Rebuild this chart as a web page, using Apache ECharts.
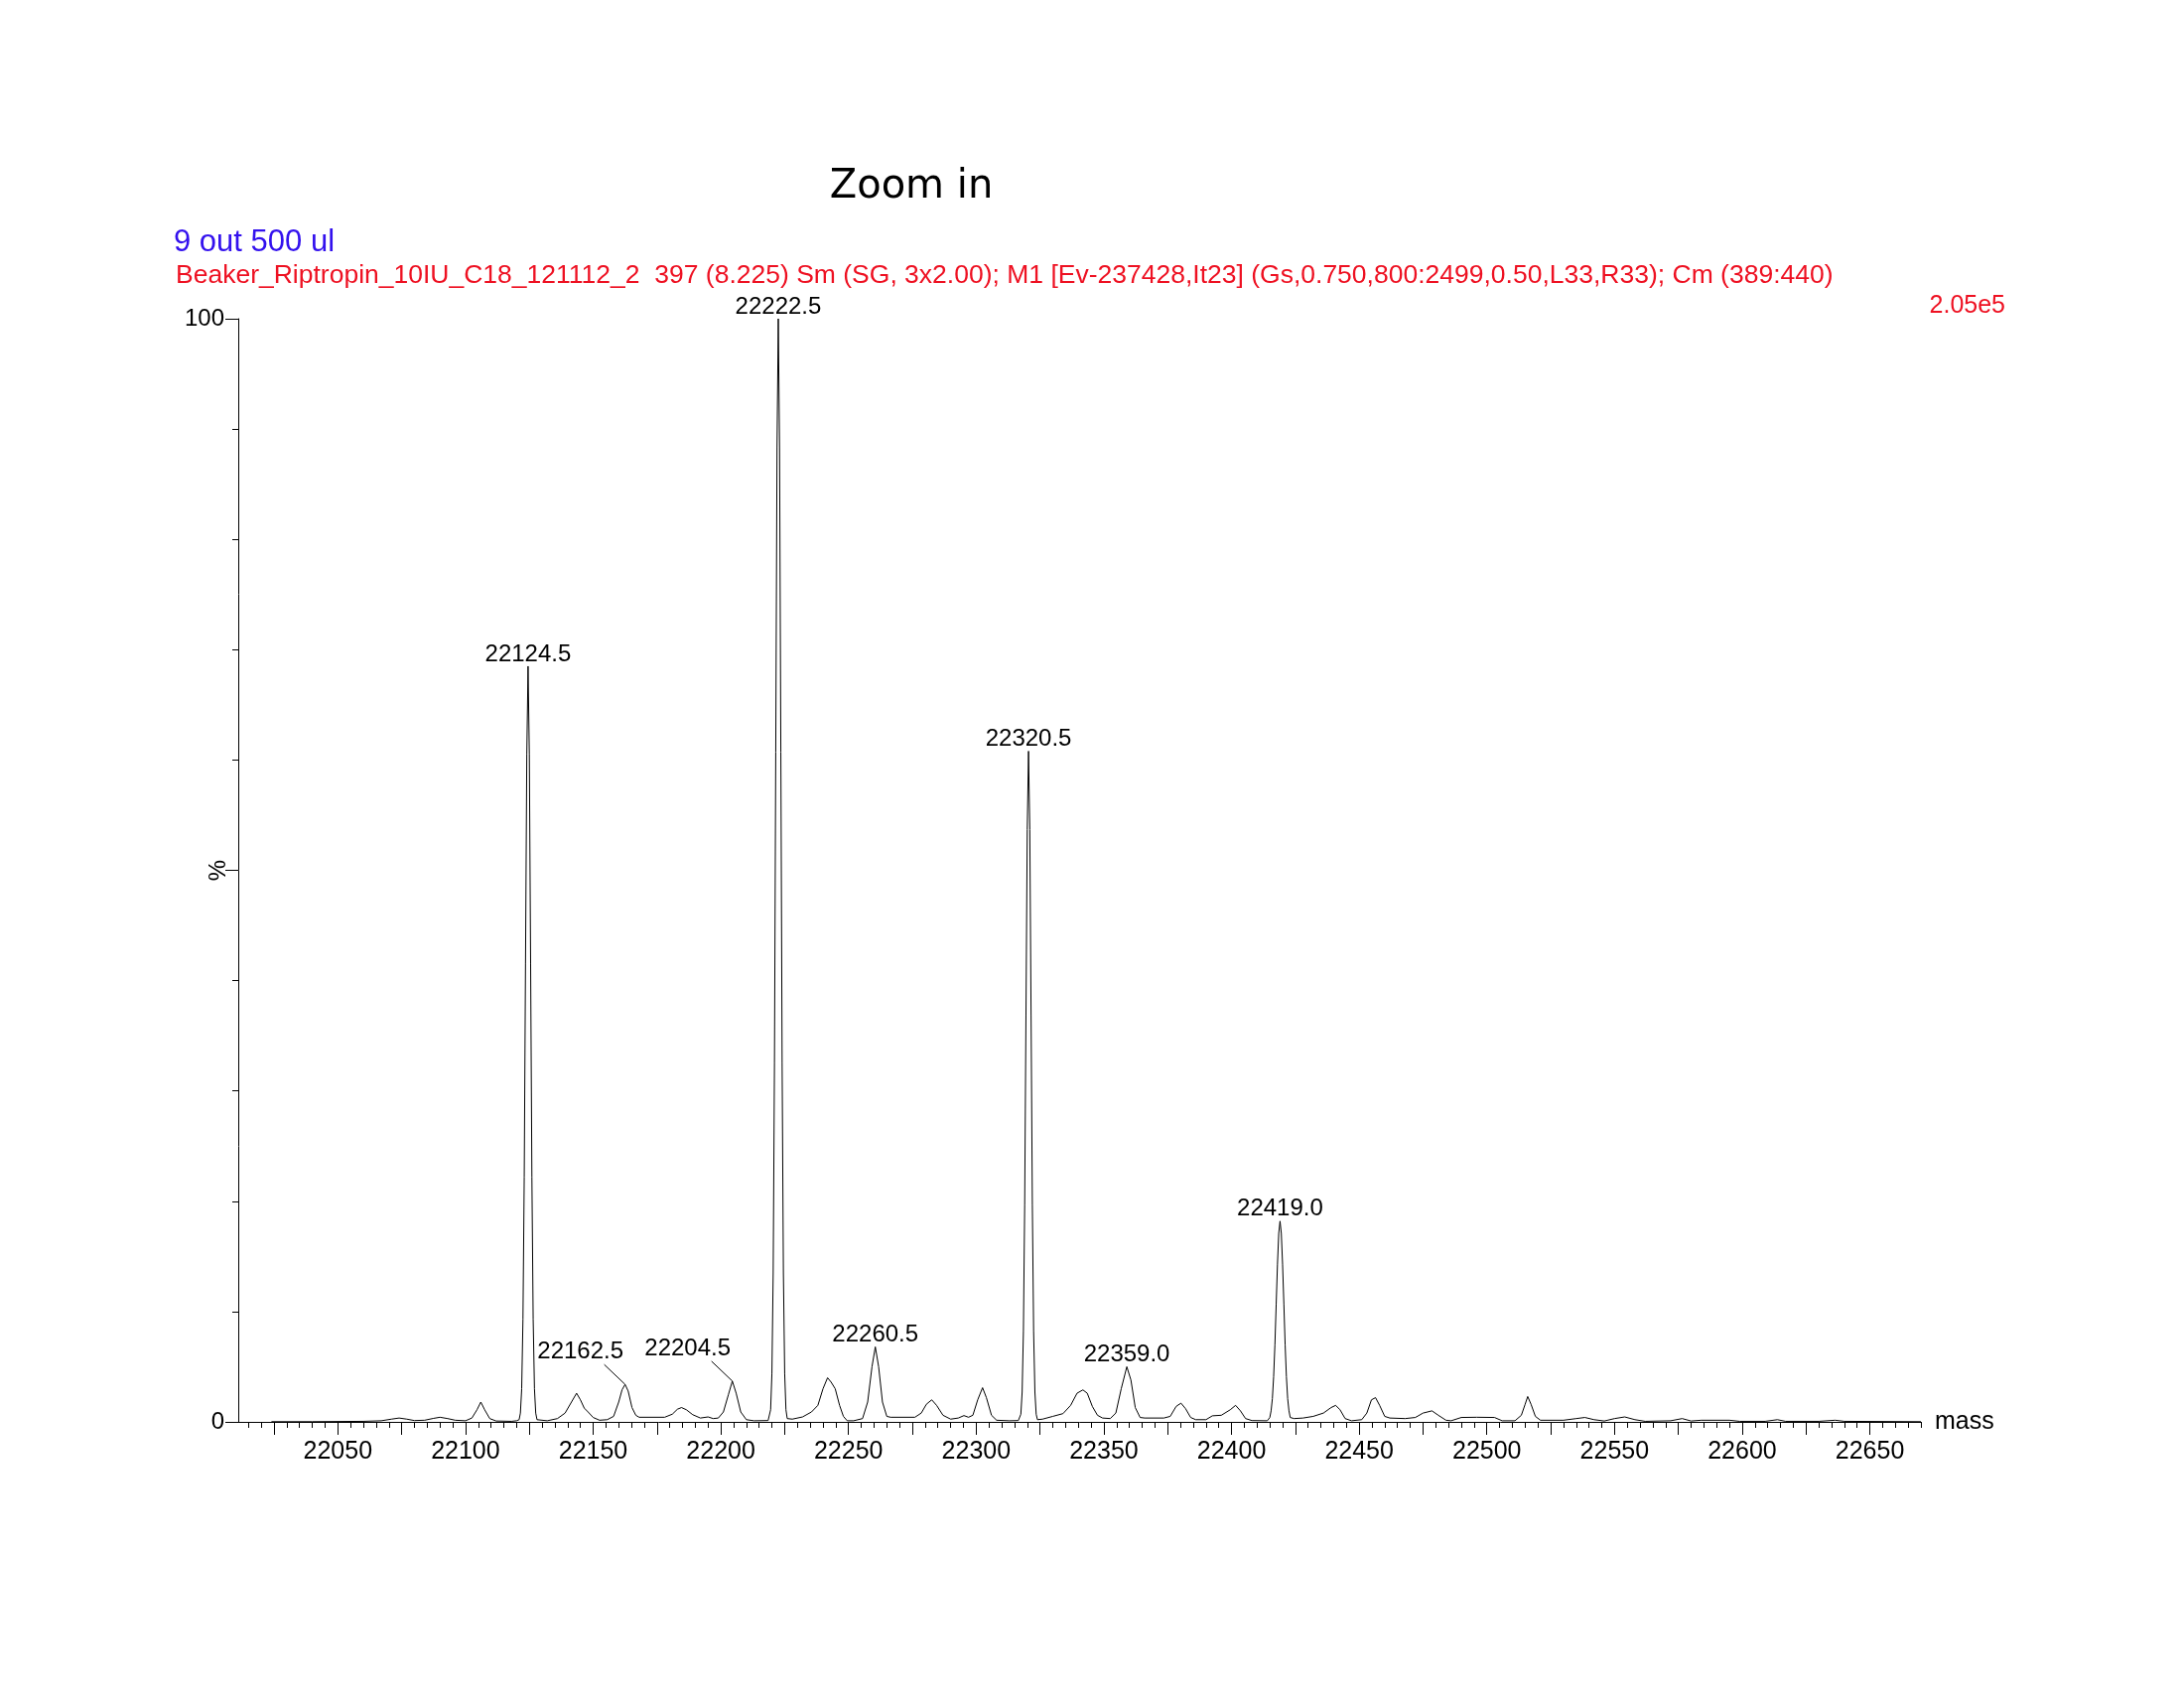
<!DOCTYPE html>
<html>
<head>
<meta charset="utf-8">
<script src="https://cdn.jsdelivr.net/npm/echarts@6/dist/echarts.min.js"></script>
<style>
html,body{margin:0;padding:0;background:#fff;}
#chart{width:2200px;height:1700px;}
</style>
</head>
<body>
<div id="chart"></div>
<script>
// ---- data ----
const titleText = 'Zoom in';
const sampleText = '9 out 500 ul';
const headerText = 'Beaker_Riptropin_10IU_C18_121112_2  397 (8.225) Sm (SG, 3x2.00); M1 [Ev-237428,It23] (Gs,0.750,800:2499,0.50,L33,R33); Cm (389:440)';
const maxIntensityText = '2.05e5';
const xName = 'mass';
const yName = '%';

const xTickLabels = [22050, 22100, 22150, 22200, 22250, 22300, 22350, 22400, 22450, 22500, 22550, 22600, 22650];
const yTickLabels = [0, 100];

// spectrum profile [mass, % intensity]
const spectrum = [
[22024,0.02],[22040,0.02],[22060,0.05],[22067,0.1],[22071,0.25],[22074,0.35],[22077,0.25],[22080,0.12],[22084,0.15],[22087.5,0.32],[22090,0.42],[22093,0.3],[22096,0.15],[22100,0.1],[22102.5,0.35],[22104.5,1.1],[22106,1.8],[22107.5,1.1],[22109.5,0.3],[22112,0.08],[22118,0.05],[22120,0.1],
[22121,0.2],[22121.5,0.8],[22122,3.0],[22122.5,9.3],[22123,22.2],[22123.5,41.5],[22124,60.5],[22124.5,68.5],[22125,60.5],[22125.5,41.5],[22126,22.2],[22126.5,9.3],[22127,3.0],[22127.5,0.8],[22128,0.2],
[22132,0.1],[22136,0.3],[22139,0.8],[22141.5,1.8],[22143.5,2.6],[22145,2.0],[22146.5,1.25],[22148,0.9],[22150,0.4],[22152.5,0.15],[22155.5,0.2],[22158,0.5],[22160,1.8],[22161.3,2.9],[22162.5,3.4],[22163.7,2.8],[22165.2,1.3],[22166.7,0.6],[22168,0.42],[22178,0.42],[22181,0.7],[22183,1.15],[22184.6,1.3],[22186.5,1.1],[22189,0.65],[22192,0.35],[22195,0.45],[22197,0.3],[22199,0.35],[22201,0.9],[22203,2.5],[22204.5,3.7],[22206,2.6],[22207.8,0.9],[22210,0.2],[22213,0.1],[22218.5,0.12],
[22219,0.3],[22219.5,1.1],[22220,4.4],[22220.5,13.5],[22221,32.5],[22221.5,60.7],[22222,88.3],[22222.5,100],[22223,88.3],[22223.5,60.7],[22224,32.5],[22224.5,13.5],[22225,4.4],[22225.5,1.1],[22226,0.3],
[22228,0.25],[22232,0.45],[22235.5,0.9],[22238,1.5],[22240,3.0],[22241.8,4.0],[22243.2,3.6],[22244.8,3.0],[22246.5,1.5],[22248,0.5],[22249.5,0.1],[22252,0.1],[22255.5,0.3],[22257.5,1.8],[22259.2,5.0],[22260.5,6.8],[22261.8,5.0],[22263.3,1.8],[22265,0.5],[22266.5,0.42],[22276,0.42],[22278.5,0.8],[22280.5,1.6],[22282.6,2.0],[22284.5,1.5],[22287,0.6],[22290,0.25],[22293,0.35],[22295.2,0.57],[22297,0.42],[22298.7,0.6],[22300.6,2.0],[22302.5,3.1],[22304,2.2],[22306,0.6],[22308,0.15],[22313,0.1],[22316.5,0.12],
[22317,0.2],[22317.5,0.7],[22318,2.7],[22318.5,8.2],[22319,19.7],[22319.5,36.9],[22320,53.7],[22320.5,60.8],[22321,53.7],[22321.5,36.9],[22322,19.7],[22322.5,8.2],[22323,2.7],[22323.5,0.7],[22324,0.2],
[22326,0.25],[22330,0.5],[22334,0.75],[22337,1.5],[22339.5,2.6],[22341.8,2.9],[22343.5,2.6],[22345.5,1.4],[22347.5,0.6],[22349.5,0.35],[22352.5,0.3],[22354.7,0.8],[22356.8,3.0],[22359,5.0],[22360.6,3.8],[22362.3,1.3],[22364.2,0.4],[22366,0.35],[22373.5,0.35],[22376,0.5],[22378.3,1.4],[22380.2,1.7],[22382,1.2],[22384,0.4],[22386,0.2],[22390,0.2],[22392.5,0.55],[22396,0.6],[22399.5,1.1],[22401.6,1.5],[22403.5,1.0],[22405.5,0.3],[22408,0.12],[22414,0.1],
[22415,0.4],[22415.5,1.0],[22416,2.1],[22416.5,4.1],[22417,7.0],[22417.5,10.7],[22418,14.3],[22418.5,17.1],[22419,18.2],[22419.5,17.1],[22420,14.3],[22420.5,10.7],[22421,7.0],[22421.5,4.1],[22422,2.1],[22422.5,1.0],[22423,0.4],
[22424.5,0.3],[22428,0.35],[22432,0.5],[22436,0.8],[22439,1.3],[22440.8,1.5],[22442.5,1.1],[22444.5,0.3],[22447,0.1],[22451,0.2],[22453,0.8],[22454.8,2.0],[22456.4,2.2],[22458,1.5],[22460,0.5],[22462,0.35],[22468,0.3],[22472,0.4],[22475,0.8],[22478.5,1.0],[22481,0.6],[22484,0.15],[22486,0.1],[22490,0.4],[22496,0.42],[22503,0.4],[22506,0.1],[22511,0.1],[22513.5,0.6],[22515,1.6],[22516,2.3],[22517.3,1.6],[22519,0.5],[22521,0.15],[22530,0.15],[22535,0.3],[22538.4,0.4],[22542,0.2],[22546,0.08],[22550,0.3],[22554,0.45],[22558,0.2],[22562,0.05],[22572,0.1],[22576.5,0.3],[22580,0.08],[22584,0.15],[22595,0.15],[22599,0.05],[22609,0.05],[22613.8,0.2],[22617,0.05],[22630,0.05],[22636.4,0.15],[22640,0.05],[22670,0.02]
];

const peakLabels = ['22124.5', '22162.5', '22204.5', '22222.5', '22260.5', '22320.5', '22359.0', '22419.0'];
const peakMasses = [22124.5, 22162.5, 22204.5, 22222.5, 22260.5, 22320.5, 22359.0, 22419.0];
const peakHasLeader = [false, true, true, false, false, false, false, false];

// ---- chart ----
const X_MIN = 22011, X_MAX = 22670;
const majorTicks = [];
for (let v = 22025; v <= 22650; v += 25) majorTicks.push(v);
const minorTicks = [];
for (let v = 22015; v <= 22670; v += 5) minorTicks.push(v);
const yMajor = [0, 50, 100];
const yMinor = [0, 10, 20, 30, 40, 50, 60, 70, 80, 90, 100];

const peakData = peakMasses.map((m, i) => {
  const pt = spectrum.find(p => p[0] === m);
  return [m, pt ? pt[1] : 0, i];
});

const FONT = '"Liberation Sans", Arial, sans-serif';

const chart = echarts.init(document.getElementById('chart'), null, {renderer: 'canvas'});
chart.setOption({
  animation: false,
  backgroundColor: '#ffffff',
  grid: {left: 240, right: 265, top: 321, bottom: 268, containLabel: false},
  xAxis: [{
    type: 'value', position: 'bottom', min: X_MIN, max: X_MAX,
    name: xName, nameLocation: 'end', nameGap: 14,
    nameTextStyle: {fontFamily: FONT, fontSize: 25, color: '#000', verticalAlign: 'middle', align: 'left', padding: [7, 0, 0, 0]},
    axisLine: {show: true, onZero: false, lineStyle: {color: '#000', width: 1}},
    axisTick: {show: true, inside: false, length: 13, lineStyle: {color: '#000', width: 1}, customValues: majorTicks},
    axisLabel: {show: true, margin: 18, fontFamily: FONT, fontSize: 25, color: '#000', customValues: xTickLabels, formatter: v => String(v)},
    splitLine: {show: false}
  }, {
    type: 'value', position: 'bottom', min: X_MIN, max: X_MAX,
    axisLine: {show: false, onZero: false},
    axisTick: {show: true, inside: false, length: 6, lineStyle: {color: '#000', width: 1}, customValues: minorTicks},
    axisLabel: {show: false},
    splitLine: {show: false}
  }],
  yAxis: [{
    type: 'value', position: 'left', min: 0, max: 100,
    name: yName, nameLocation: 'middle', nameGap: 8, nameRotate: 90, nameMoveOverlap: false,
    nameTextStyle: {fontFamily: FONT, fontSize: 24, color: '#000'},
    axisLine: {show: true, onZero: false, lineStyle: {color: '#000', width: 1}},
    axisTick: {show: true, inside: false, length: 13, lineStyle: {color: '#000', width: 1}, customValues: yMajor},
    axisLabel: {show: true, margin: 14, fontFamily: FONT, fontSize: 24, color: '#000', customValues: yTickLabels},
    splitLine: {show: false}
  }, {
    type: 'value', position: 'left', min: 0, max: 100,
    axisLine: {show: false, onZero: false},
    axisTick: {show: true, inside: false, length: 6, lineStyle: {color: '#000', width: 1}, customValues: yMinor},
    axisLabel: {show: false},
    splitLine: {show: false}
  }],
  series: [{
    type: 'line',
    xAxisIndex: 0, yAxisIndex: 0,
    data: spectrum,
    showSymbol: false, symbol: 'none',
    smooth: false,
    lineStyle: {color: '#000', width: 1},
    silent: true,
    clip: true
  }, {
    type: 'custom',
    xAxisIndex: 0, yAxisIndex: 0,
    data: peakData,
    silent: true,
    renderItem: function (params, api) {
      const idx = api.value(2);
      const p = api.coord([api.value(0), api.value(1)]);
      const label = peakLabels[idx];
      if (peakHasLeader[idx]) {
        return {
          type: 'group',
          children: [{
            type: 'line',
            shape: {x1: p[0] - 21, y1: p[1] - 20, x2: p[0], y2: p[1]},
            style: {stroke: '#000', lineWidth: 1}
          }, {
            type: 'text',
            x: p[0] - 45, y: p[1] - 33,
            style: {text: label, fontFamily: FONT, fontSize: 24, fill: '#000', align: 'center', verticalAlign: 'middle'}
          }]
        };
      }
      return {
        type: 'text',
        x: p[0], y: p[1] - 12,
        style: {text: label, fontFamily: FONT, fontSize: 24, fill: '#000', align: 'center', verticalAlign: 'middle'}
      };
    }
  }],
  graphic: [{
    type: 'text', x: 918, y: 189,
    style: {text: titleText, fontFamily: '"DejaVu Sans", sans-serif', fontSize: 40, fill: '#000', align: 'center', verticalAlign: 'middle'}
  }, {
    type: 'text', x: 175, y: 244,
    style: {text: sampleText, fontFamily: FONT, fontSize: 31, fill: '#3311ee', align: 'left', verticalAlign: 'middle'}
  }, {
    type: 'text', x: 177, y: 278,
    style: {text: headerText, fontFamily: FONT, fontSize: 26.5, fill: '#ee1122', align: 'left', verticalAlign: 'middle'}
  }, {
    type: 'text', x: 2020, y: 308,
    style: {text: maxIntensityText, fontFamily: FONT, fontSize: 25, fill: '#ee1122', align: 'right', verticalAlign: 'middle'}
  }]
});
</script>
</body>
</html>
